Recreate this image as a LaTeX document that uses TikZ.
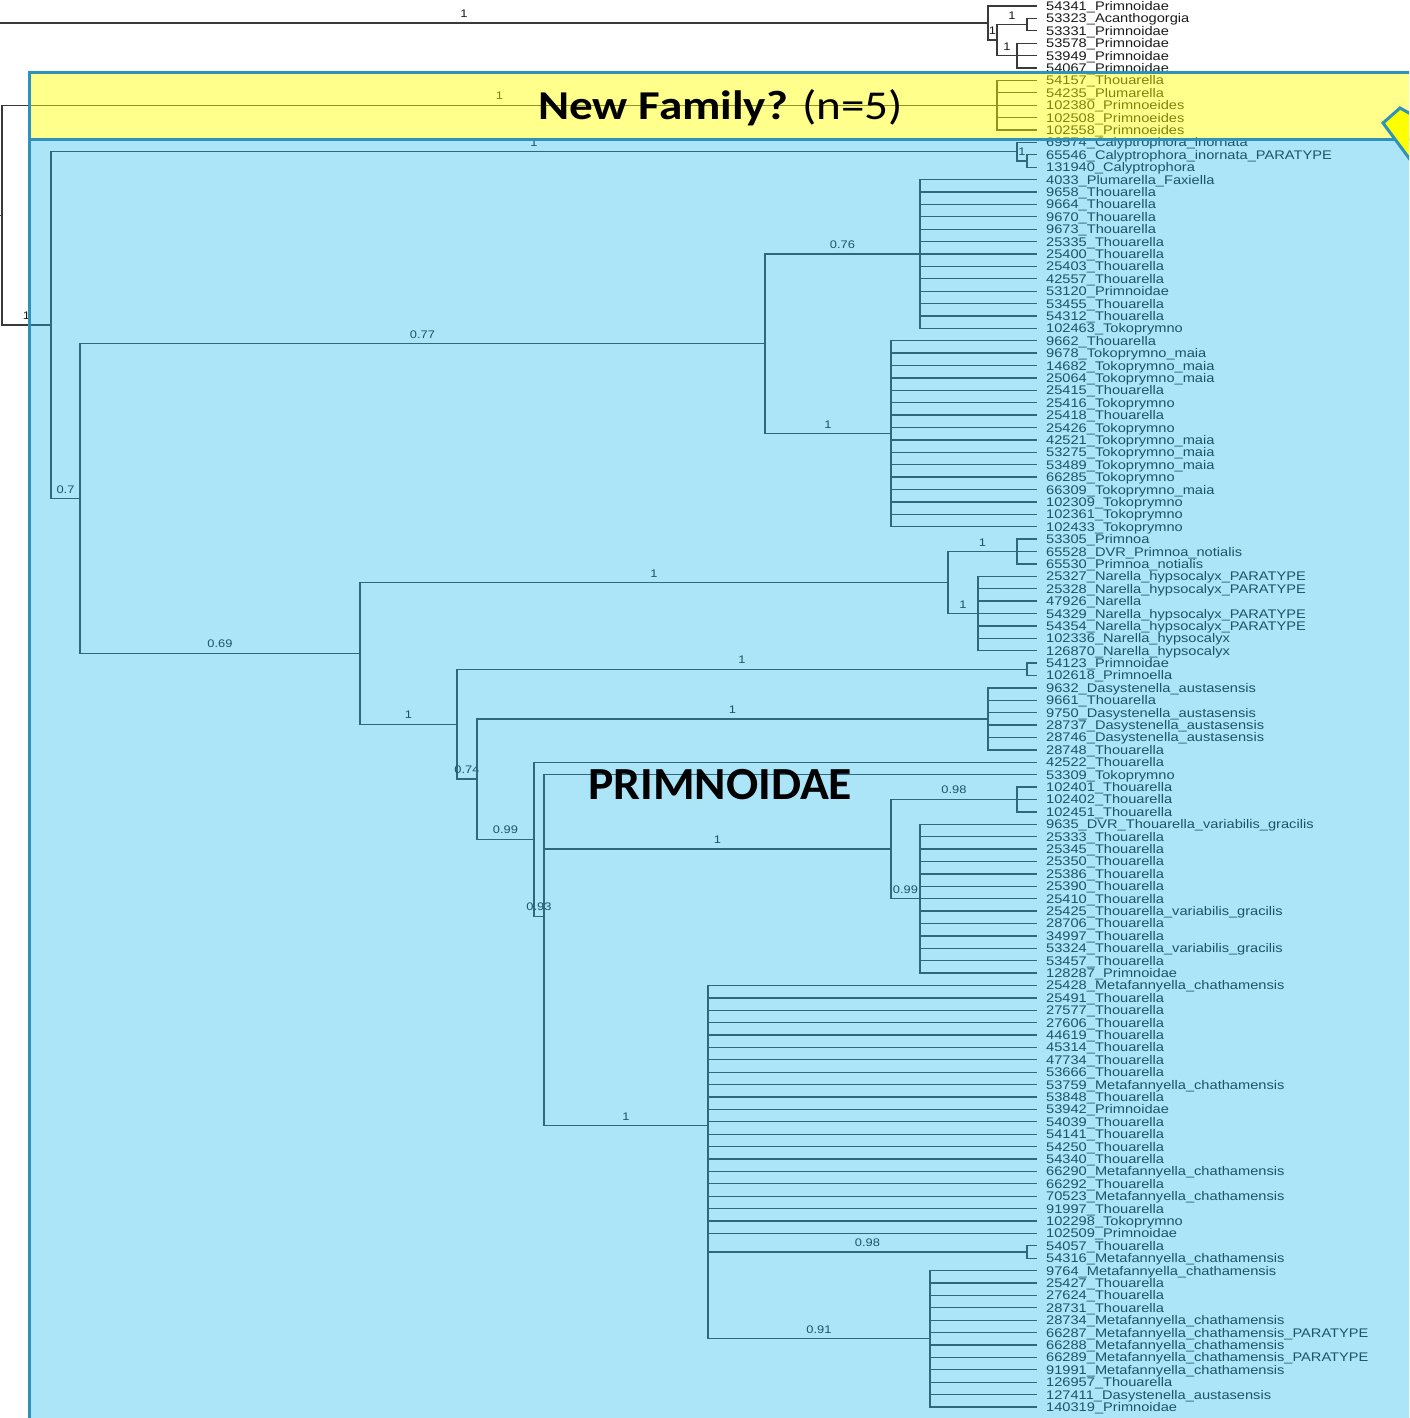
\documentclass[tikz,border=0pt]{standalone}
\usepackage{fontspec}
\setmainfont{Liberation Sans}
\newfontfamily\tipfont[FakeStretch=1.17]{Liberation Sans}
\newfontfamily\ttlfont{Carlito}
\definecolor{treeline}{HTML}{3A3A3A}
\definecolor{treetext}{HTML}{1A1A1A}
\definecolor{bluefill}{RGB}{31,185,236}
\definecolor{yelfill}{RGB}{255,255,0}
\definecolor{boxedge}{RGB}{46,146,186}
\tikzset{
  branch/.style={draw=treeline, line width=1.3pt},
  sup/.style={pos=0.75, anchor=base, yshift=5.5pt, inner sep=0pt, text=treetext, font=\tipfont\fontsize{11}{11}\selectfont},
  tiplab/.style={anchor=base west, inner sep=0pt, text=treetext, font=\tipfont\fontsize{12.5}{12.5}\selectfont},
  overlay box/.style={fill opacity=#1, draw=none},
  box edge/.style={draw=boxedge, line width=3pt},
  title/.style={anchor=base west, inner sep=0pt, text=black}
}
\begin{document}
\begin{tikzpicture}[x=1pt, y=-1pt]
\useasboundingbox (0,0) rectangle (1409,1418);
\clip (0,0) rectangle (1409,1418);

% ---- tips and their labels
\foreach \i/\lab in {
1/54341\_Primnoidae, 2/53323\_Acanthogorgia, 3/53331\_Primnoidae, 4/53578\_Primnoidae,
5/53949\_Primnoidae, 6/54067\_Primnoidae, 7/54157\_Thouarella, 8/54235\_Plumarella,
9/102380\_Primnoeides, 10/102508\_Primnoeides, 11/102558\_Primnoeides,
12/69574\_Calyptrophora\_inornata, 13/65546\_Calyptrophora\_inornata\_PARATYPE,
14/131940\_Calyptrophora, 15/4033\_Plumarella\_Faxiella, 16/9658\_Thouarella,
17/9664\_Thouarella, 18/9670\_Thouarella, 19/9673\_Thouarella, 20/25335\_Thouarella,
21/25400\_Thouarella, 22/25403\_Thouarella, 23/42557\_Thouarella, 24/53120\_Primnoidae,
25/53455\_Thouarella, 26/54312\_Thouarella, 27/102463\_Tokoprymno, 28/9662\_Thouarella,
29/9678\_Tokoprymno\_maia, 30/14682\_Tokoprymno\_maia, 31/25064\_Tokoprymno\_maia,
32/25415\_Thouarella, 33/25416\_Tokoprymno, 34/25418\_Thouarella, 35/25426\_Tokoprymno,
36/42521\_Tokoprymno\_maia, 37/53275\_Tokoprymno\_maia, 38/53489\_Tokoprymno\_maia,
39/66285\_Tokoprymno, 40/66309\_Tokoprymno\_maia, 41/102309\_Tokoprymno,
42/102361\_Tokoprymno, 43/102433\_Tokoprymno, 44/53305\_Primnoa,
45/65528\_DVR\_Primnoa\_notialis, 46/65530\_Primnoa\_notialis,
47/25327\_Narella\_hypsocalyx\_PARATYPE, 48/25328\_Narella\_hypsocalyx\_PARATYPE,
49/47926\_Narella, 50/54329\_Narella\_hypsocalyx\_PARATYPE,
51/54354\_Narella\_hypsocalyx\_PARATYPE, 52/102336\_Narella\_hypsocalyx,
53/126870\_Narella\_hypsocalyx, 54/54123\_Primnoidae, 55/102618\_Primnoella,
56/9632\_Dasystenella\_austasensis, 57/9661\_Thouarella, 58/9750\_Dasystenella\_austasensis,
59/28737\_Dasystenella\_austasensis, 60/28746\_Dasystenella\_austasensis,
61/28748\_Thouarella, 62/42522\_Thouarella, 63/53309\_Tokoprymno, 64/102401\_Thouarella,
65/102402\_Thouarella, 66/102451\_Thouarella, 67/9635\_DVR\_Thouarella\_variabilis\_gracilis,
68/25333\_Thouarella, 69/25345\_Thouarella, 70/25350\_Thouarella, 71/25386\_Thouarella,
72/25390\_Thouarella, 73/25410\_Thouarella, 74/25425\_Thouarella\_variabilis\_gracilis,
75/28706\_Thouarella, 76/34997\_Thouarella, 77/53324\_Thouarella\_variabilis\_gracilis,
78/53457\_Thouarella, 79/128287\_Primnoidae, 80/25428\_Metafannyella\_chathamensis,
81/25491\_Thouarella, 82/27577\_Thouarella, 83/27606\_Thouarella, 84/44619\_Thouarella,
85/45314\_Thouarella, 86/47734\_Thouarella, 87/53666\_Thouarella,
88/53759\_Metafannyella\_chathamensis, 89/53848\_Thouarella, 90/53942\_Primnoidae,
91/54039\_Thouarella, 92/54141\_Thouarella, 93/54250\_Thouarella, 94/54340\_Thouarella,
95/66290\_Metafannyella\_chathamensis, 96/66292\_Thouarella,
97/70523\_Metafannyella\_chathamensis, 98/91997\_Thouarella, 99/102298\_Tokoprymno,
100/102509\_Primnoidae, 101/54057\_Thouarella, 102/54316\_Metafannyella\_chathamensis,
103/9764\_Metafannyella\_chathamensis, 104/25427\_Thouarella, 105/27624\_Thouarella,
106/28731\_Thouarella, 107/28734\_Metafannyella\_chathamensis,
108/66287\_Metafannyella\_chathamensis\_PARATYPE, 109/66288\_Metafannyella\_chathamensis,
110/66289\_Metafannyella\_chathamensis\_PARATYPE, 111/91991\_Metafannyella\_chathamensis,
112/126957\_Thouarella, 113/127411\_Dasystenella\_austasensis, 114/140319\_Primnoidae}{
  \coordinate (t\i) at (1037,{6+(\i-1)*12.398});
  \node[tiplab] (l\i) at ([shift={(9,4.5)}]t\i) {\lab};
}

% ---- internal nodes
\coordinate (nR0) at (-60,119.1);
\coordinate (nD)  at (988,23.047);
\coordinate (nC)  at (997,40.095);
\coordinate (nA)  at (1027,24.597);
\coordinate (nB)  at (1017,55.592);
\coordinate (nR)  at (2,215.162);
\coordinate (nY)  at (997,105.184);
\coordinate (nAC) at (51,325.14);
\coordinate (nF)  at (1017,151.677);
\coordinate (nE)  at (1027,160.975);
\coordinate (nAB) at (80,498.602);
\coordinate (nI)  at (765,343.846);
\coordinate (nG)  at (920,253.96);
\coordinate (nH)  at (891,433.731);
\coordinate (nAA) at (360,653.358);
\coordinate (nL)  at (948,582.507);
\coordinate (nJ)  at (1017,551.512);
\coordinate (nK)  at (978,613.502);
\coordinate (nZ)  at (457,724.208);
\coordinate (nM)  at (1027,669.293);
\coordinate (nX)  at (477,779.123);
\coordinate (nN)  at (988,718.885);
\coordinate (nW)  at (534,839.361);
\coordinate (nV)  at (544,916.444);
\coordinate (nQ)  at (891,849.064);
\coordinate (nO)  at (1017,799.472);
\coordinate (nP)  at (920,898.656);
\coordinate (nU)  at (708,1125.593);
\coordinate (nS)  at (1027,1251.999);
\coordinate (nT)  at (930,1338.785);

% ---- branches
\draw[branch] (nR0) |- (nD) node[sup] {1};
\draw[branch] (nR0) |- (nR);
\draw[branch] (nD) |- (t1);
\draw[branch] (nD) |- (nC) node[sup] {1};
\draw[branch] (nC) |- (nA) node[sup] {1};
\draw[branch] (nC) |- (nB) node[sup] {1};
\draw[branch] (nA) |- (t2);
\draw[branch] (nA) |- (t3);
\foreach \i in {4,5,6} \draw[branch] (nB) |- (t\i);
\draw[branch] (nR) |- (nY) node[sup] {1};
\foreach \i in {7,...,11} \draw[branch] (nY) |- (t\i);
\draw[branch] (nR) |- (nAC) node[sup] {1};
\draw[branch] (nAC) |- (nF) node[sup] {1};
\draw[branch] (nAC) |- (nAB) node[sup] {0.7};
\draw[branch] (nF) |- (t12);
\draw[branch] (nF) |- (nE) node[sup] {1};
\draw[branch] (nE) |- (t13);
\draw[branch] (nE) |- (t14);
\draw[branch] (nAB) |- (nI) node[sup] {0.77};
\draw[branch] (nAB) |- (nAA) node[sup] {0.69};
\draw[branch] (nI) |- (nG) node[sup] {0.76};
\draw[branch] (nI) |- (nH) node[sup] {1};
\foreach \i in {15,...,27} \draw[branch] (nG) |- (t\i);
\foreach \i in {28,...,43} \draw[branch] (nH) |- (t\i);
\draw[branch] (nAA) |- (nL) node[sup] {1};
\draw[branch] (nAA) |- (nZ) node[sup] {1};
\draw[branch] (nL) |- (nJ) node[sup] {1};
\draw[branch] (nL) |- (nK) node[sup] {1};
\foreach \i in {44,45,46} \draw[branch] (nJ) |- (t\i);
\foreach \i in {47,...,53} \draw[branch] (nK) |- (t\i);
\draw[branch] (nZ) |- (nM) node[sup] {1};
\draw[branch] (nZ) |- (nX) node[sup] {0.74};
\draw[branch] (nM) |- (t54);
\draw[branch] (nM) |- (t55);
\draw[branch] (nX) |- (nN) node[sup] {1};
\draw[branch] (nX) |- (nW) node[sup] {0.99};
\foreach \i in {56,...,61} \draw[branch] (nN) |- (t\i);
\draw[branch] (nW) |- (t62);
\draw[branch] (nW) |- (nV) node[sup] {0.93};
\draw[branch] (nV) |- (t63);
\draw[branch] (nV) |- (nQ) node[sup] {1};
\draw[branch] (nV) |- (nU) node[sup] {1};
\draw[branch] (nQ) |- (nO) node[sup] {0.98};
\draw[branch] (nQ) |- (nP) node[sup] {0.99};
\foreach \i in {64,65,66} \draw[branch] (nO) |- (t\i);
\foreach \i in {67,...,79} \draw[branch] (nP) |- (t\i);
\foreach \i in {80,...,100} \draw[branch] (nU) |- (t\i);
\draw[branch] (nU) |- (nS) node[sup] {0.98};
\draw[branch] (nU) |- (nT) node[sup] {0.91};
\draw[branch] (nS) |- (t101);
\draw[branch] (nS) |- (t102);
\foreach \i in {103,...,114} \draw[branch] (nT) |- (t\i);

% ---- translucent highlight boxes
\fill[yelfill, overlay box=0.45] (29,73) rectangle (1500,139.5);
\fill[bluefill, overlay box=0.37] (29,139.5) rectangle (1500,1500);
\draw[box edge] (29,73) rectangle (1500,139.5);
\draw[box edge] (29,139.5) rectangle (1500,1500);
\draw[box edge, fill=yelfill] (1383,123) -- (1400,108) -- (1454,138) -- (1421.5,175) -- cycle;

% ---- titles
\node[title] (newfam) at (538,120) {\resizebox{365pt}{\height}{\ttlfont\fontsize{41}{41}\selectfont\bfseries New Family? \mdseries(n=5)}};
\node[title] (primno) at (588,799) {\resizebox{264pt}{\height}{\ttlfont\fontsize{46}{46}\selectfont\bfseries PRIMNOIDAE}};
\end{tikzpicture}
\end{document}
